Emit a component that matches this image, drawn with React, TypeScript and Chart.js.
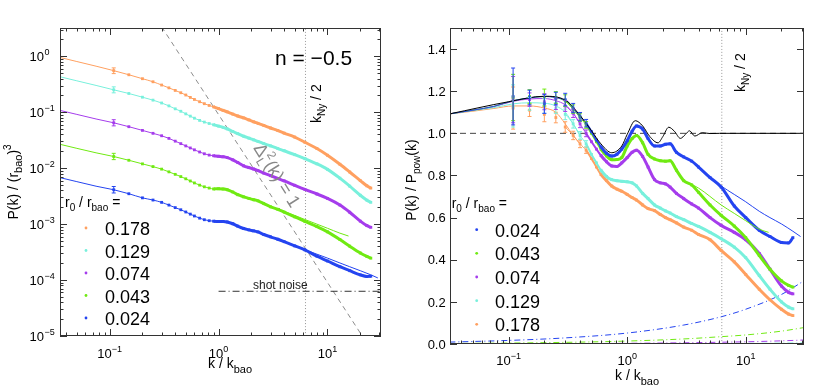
import React, { useEffect, useRef } from "react";
import { Chart, registerables } from "chart.js";

Chart.register(...registerables);

const FONT = '"Liberation Sans", Arial, Helvetica, sans-serif';

const COLOR_ORANGE = "#ffa060";
const COLOR_CYAN = "#78f0dc";
const COLOR_PURPLE = "#a53cec";
const COLOR_GREEN = "#70ea12";
const COLOR_BLUE = "#2444f0";

// series order: orange, cyan, purple, green, blue
const SERIES_NAMES = ["0.178", "0.129", "0.074", "0.043", "0.024"];
const SERIES_COLORS = [COLOR_ORANGE, COLOR_CYAN, COLOR_PURPLE, COLOR_GREEN, COLOR_BLUE];

// ---------- shared k grid of the measured points (k / k_bao) ----------
const K_DATA = [0.109, 0.15, 0.2, 0.25, 0.3, 0.35, 0.4, 0.45, 0.5, 0.55, 0.6, 0.67, 0.74, 0.82, 0.9, 1.0, 1.1, 1.2, 1.35, 1.5, 1.7, 1.9, 2.1, 2.3, 2.6, 3.0, 3.5, 4, 5, 6.2, 8, 10, 13, 16, 20, 23, 25];

// ---------- LEFT PANEL : P(k) / (r_bao)^3 ----------
const K_HEAD_LEFT = [0.0316, 0.05, 0.075, 0.109];
const HEAD_LEFT_ORANGE = [1.0, 0.805, 0.665, 0.553];
const HEAD_LEFT_CYAN = [0.451, 0.364, 0.301, 0.2513];
const HEAD_LEFT_PURPLE = [0.113, 0.0913, 0.0757, 0.06465];
const HEAD_LEFT_GREEN = [0.028, 0.0226, 0.0188, 0.01615];
const HEAD_LEFT_BLUE = [0.0071, 0.00574, 0.00476, 0.004113];

const P_ORANGE = [0.553, 0.467, 0.397, 0.35, 0.306, 0.2725, 0.245, 0.223, 0.203, 0.184, 0.169, 0.154, 0.142, 0.132, 0.1245, 0.116, 0.108, 0.1015, 0.0925, 0.0855, 0.079, 0.0727, 0.0674, 0.0633, 0.058, 0.0522, 0.047, 0.0423, 0.036, 0.029, 0.0224, 0.017, 0.01174, 0.00854, 0.006, 0.00483, 0.0044];
const P_CYAN = [0.2513, 0.2161, 0.1855, 0.1644, 0.1461, 0.1297, 0.1149, 0.104, 0.0934, 0.0851, 0.0782, 0.0713, 0.0666, 0.0628, 0.0597, 0.0565, 0.0536, 0.0503, 0.0452, 0.0414, 0.0372, 0.0344, 0.032, 0.0301, 0.0275, 0.025, 0.0224, 0.0205, 0.0174, 0.01474, 0.01193, 0.00952, 0.00662, 0.00477, 0.00328, 0.00268, 0.00245];
const P_PURPLE = [0.06465, 0.0551, 0.04731, 0.04195, 0.03795, 0.03406, 0.0304, 0.02743, 0.02498, 0.02295, 0.02126, 0.01945, 0.01807, 0.01713, 0.01668, 0.01629, 0.01597, 0.01545, 0.01409, 0.01261, 0.011, 0.01021, 0.00965, 0.00904, 0.00816, 0.00733, 0.00654, 0.00593, 0.00494, 0.00416, 0.00345, 0.00288, 0.00219, 0.00163, 0.00113, 0.00094, 0.000876];
const P_GREEN = [0.01615, 0.01383, 0.01193, 0.01067, 0.00961, 0.00859, 0.00775, 0.00707, 0.00645, 0.0059, 0.00544, 0.00497, 0.00464, 0.00441, 0.00425, 0.00429, 0.00424, 0.00412, 0.00375, 0.00335, 0.00307, 0.00288, 0.00273, 0.00261, 0.00233, 0.00204, 0.00184, 0.00164, 0.00135, 0.00112, 0.000902, 0.000728, 0.000531, 0.000404, 0.000305, 0.000264, 0.000246];
const P_BLUE = [0.004113, 0.003491, 0.002945, 0.002692, 0.002447, 0.002188, 0.001971, 0.001805, 0.001647, 0.001508, 0.001396, 0.001278, 0.001198, 0.00115, 0.001127, 0.001115, 0.001113, 0.001092, 0.001014, 0.00092, 0.000833, 0.000788, 0.000756, 0.000724, 0.000652, 0.000592, 0.000536, 0.000485, 0.000408, 0.000346, 0.000267, 0.000219, 0.000173, 0.000147, 0.000124, 0.000116, 0.000117];

const K_TAIL_GREEN = [3, 4, 6.2, 8, 10, 13, 15.6];
const LEFT_TAIL_GREEN = [0.00204, 0.00169, 0.00121, 0.000998, 0.000843, 0.000689, 0.000612];
const K_TAIL_BLUE = [5, 6.2, 8, 10, 13, 16, 20, 25, 29];
const LEFT_TAIL_BLUE = [0.000408, 0.000348, 0.00029, 0.000247, 0.000202, 0.000173, 0.000147, 0.000124, 0.000109];

// error bars at the first measured point (k = 0.109)
const LEFT_ERR_K = 0.109;
const LEFT_ERR_LO = [0.49, 0.222, 0.057, 0.0142, 0.0036];
const LEFT_ERR_HI = [0.62, 0.284, 0.0735, 0.0184, 0.0047];

const DIAG_K = [0.3, 25];
const DIAG_P = [3.36, 5.8e-6];
const SHOT_NOISE_K = [1, 31];
const SHOT_NOISE_P = [6.3e-5, 6.3e-5];
const K_NY_HALF = 6.28;

const LEFT_X_TICKS = [0.1, 1, 10];
const LEFT_X_EXP = ["\u22121", "0", "1"];
const LEFT_Y_TICKS = [1, 0.1, 0.01, 0.001, 0.0001, 0.00001];
const LEFT_Y_EXP = ["0", "\u22121", "\u22122", "\u22123", "\u22124", "\u22125"];

// ---------- RIGHT PANEL : P(k) / P_pow(k) ----------
const K_HEAD_RIGHT = [0.0316, 0.05, 0.075, 0.109, 0.15, 0.2, 0.25, 0.3, 0.35, 0.4];
const HEAD_RIGHT_ORANGE = [1.092, 1.105, 1.118, 1.13, 1.13, 1.12, 1.1, 1.045, 0.99, 0.95];
const HEAD_RIGHT_CYAN = [1.092, 1.108, 1.122, 1.14, 1.145, 1.143, 1.13, 1.1, 1.045, 0.99];
const HEAD_RIGHT_PURPLE = [1.092, 1.11, 1.127, 1.152, 1.163, 1.165, 1.155, 1.135, 1.095, 1.045];
const HEAD_RIGHT_GREEN = [1.092, 1.11, 1.128, 1.155, 1.168, 1.175, 1.17, 1.152, 1.115, 1.075];
const HEAD_RIGHT_BLUE = [1.092, 1.11, 1.128, 1.155, 1.168, 1.175, 1.17, 1.155, 1.12, 1.079];

const R_ORANGE = [1.12, 1.11, 1.09, 1.075, 1.03, 0.99, 0.95, 0.92, 0.88, 0.84, 0.805, 0.775, 0.75, 0.735, 0.725, 0.71, 0.695, 0.683, 0.66, 0.643, 0.633, 0.615, 0.6, 0.59, 0.575, 0.555, 0.54, 0.52, 0.495, 0.444, 0.39, 0.33, 0.26, 0.21, 0.165, 0.142, 0.135];
const R_CYAN = [1.13, 1.14, 1.13, 1.12, 1.09, 1.045, 0.99, 0.95, 0.9, 0.86, 0.825, 0.795, 0.78, 0.775, 0.772, 0.77, 0.765, 0.75, 0.715, 0.69, 0.66, 0.645, 0.632, 0.622, 0.605, 0.59, 0.572, 0.558, 0.53, 0.5, 0.46, 0.41, 0.325, 0.26, 0.2, 0.175, 0.167];
const R_PURPLE = [1.16, 1.16, 1.15, 1.14, 1.13, 1.095, 1.045, 1.0, 0.96, 0.925, 0.895, 0.865, 0.845, 0.843, 0.86, 0.885, 0.91, 0.92, 0.89, 0.84, 0.78, 0.765, 0.76, 0.745, 0.715, 0.69, 0.665, 0.645, 0.6, 0.563, 0.53, 0.495, 0.43, 0.355, 0.275, 0.245, 0.238];
const R_GREEN = [1.17, 1.175, 1.17, 1.17, 1.155, 1.115, 1.075, 1.04, 1.0, 0.96, 0.925, 0.893, 0.875, 0.876, 0.885, 0.94, 0.975, 0.99, 0.955, 0.9, 0.878, 0.87, 0.868, 0.87, 0.825, 0.775, 0.755, 0.72, 0.66, 0.611, 0.56, 0.505, 0.42, 0.355, 0.3, 0.278, 0.27];
const R_BLUE = [1.175, 1.17, 1.14, 1.165, 1.16, 1.12, 1.079, 1.048, 1.008, 0.968, 0.936, 0.905, 0.892, 0.901, 0.925, 0.965, 1.01, 1.035, 1.02, 0.975, 0.94, 0.94, 0.948, 0.95, 0.91, 0.888, 0.868, 0.84, 0.79, 0.745, 0.655, 0.6, 0.54, 0.51, 0.482, 0.48, 0.505];

const RIGHT_TAIL_GREEN = [0.775, 0.74, 0.66, 0.62, 0.585, 0.545, 0.53];
const RIGHT_TAIL_BLUE = [0.79, 0.75, 0.71, 0.675, 0.63, 0.6, 0.57, 0.535, 0.51];

const K_BLACK = [0.0316, 0.1, 0.2, 0.3, 0.4, 0.5, 0.6, 0.74, 0.9, 1.0, 1.17, 1.35, 1.55, 1.82, 2.0, 2.24, 2.5, 2.81, 3.1, 3.35, 3.72, 4.3, 5, 6, 10, 31];
const R_BLACK = [1.092, 1.15, 1.176, 1.158, 1.085, 1.012, 0.95, 0.908, 0.94, 0.995, 1.06, 1.035, 0.985, 0.955, 0.985, 1.029, 1.01, 0.976, 0.995, 1.012, 0.987, 1.003, 0.999, 1.0, 1.0, 1.0];

const K_SN = [0.0316, 0.1, 0.3, 1, 3, 6.28, 10, 20, 31];
const SN_ORANGE = [0.00006, 0.0001, 0.0002, 0.0004, 0.0007, 0.001, 0.0013, 0.0018, 0.0023];
const SN_CYAN = [0.00016, 0.0003, 0.0005, 0.0009, 0.0016, 0.0023, 0.003, 0.0042, 0.0053];
const SN_PURPLE = [0.0006, 0.001, 0.0018, 0.0033, 0.0058, 0.0085, 0.0105, 0.015, 0.019];
const SN_GREEN = [0.0025, 0.0045, 0.0078, 0.014, 0.024, 0.035, 0.043, 0.061, 0.078];
const SN_BLUE = [0.009, 0.017, 0.029, 0.052, 0.09, 0.13, 0.165, 0.235, 0.3];

// error bar half-widths at the first eight measured k
const ERR_HALF_ORANGE = [0.1, 0.03, 0.035, 0.025, 0.025, 0.02, 0.018, 0.015];
const ERR_HALF_CYAN = [0.1, 0.03, 0.035, 0.025, 0.025, 0.02, 0.018, 0.015];
const ERR_HALF_PURPLE = [0.11, 0.032, 0.038, 0.027, 0.026, 0.02, 0.018, 0.016];
const ERR_HALF_GREEN = [0.11, 0.032, 0.04, 0.028, 0.028, 0.02, 0.018, 0.016];
const ERR_HALF_BLUE = [0.135, 0.035, 0.045, 0.03, 0.03, 0.022, 0.02, 0.018];

const RIGHT_X_TICKS = [0.1, 1, 10];
const RIGHT_X_EXP = ["\u22121", "0", "1"];
const RIGHT_Y_TICKS = [0, 0.2, 0.4, 0.6, 0.8, 1.0, 1.2, 1.4];
const RIGHT_Y_LABELS = ["0.0", "0.2", "0.4", "0.6", "0.8", "1.0", "1.2", "1.4"];

// ---------- helpers ----------
type Part = { t: string; s: number; dy?: number };

const pts = (xs: number[], ys: number[]) => xs.map((x, i) => ({ x, y: ys[i] }));

function partsWidth(ctx: CanvasRenderingContext2D, parts: Part[]) {
  let w = 0;
  for (const p of parts) {
    ctx.font = `${p.s}px ${FONT}`;
    w += ctx.measureText(p.t).width;
  }
  return w;
}

function drawParts(ctx: CanvasRenderingContext2D, x: number, y: number, parts: Part[], align = "left", color = "#000") {
  const w = partsWidth(ctx, parts);
  let cx = align === "left" ? x : align === "center" ? x - w / 2 : x - w;
  ctx.save();
  ctx.fillStyle = color;
  ctx.textAlign = "left";
  ctx.textBaseline = "alphabetic";
  for (const p of parts) {
    ctx.font = `${p.s}px ${FONT}`;
    ctx.fillText(p.t, cx, y + (p.dy || 0));
    cx += ctx.measureText(p.t).width;
  }
  ctx.restore();
}

function logMinor(min: number, max: number): number[] {
  const out: number[] = [];
  for (let e = Math.floor(Math.log10(min)); e <= Math.ceil(Math.log10(max)); e++) {
    for (let d = 2; d <= 9; d++) {
      const v = d * Math.pow(10, e);
      if (v > min && v < max) out.push(v);
    }
  }
  return out;
}

function drawFrame(chart: any, xMaj: number[], xMin: number[], yMaj: number[], yMin: number[]) {
  const { ctx, chartArea: a } = chart;
  const X = chart.scales.x;
  const Y = chart.scales.y;
  ctx.save();
  ctx.strokeStyle = "#333";
  ctx.lineWidth = 1;
  ctx.setLineDash([]);
  ctx.beginPath();
  const tx = (v: number, len: number) => {
    const p = Math.round(X.getPixelForValue(v)) + 0.5;
    ctx.moveTo(p, a.bottom); ctx.lineTo(p, a.bottom - len);
    ctx.moveTo(p, a.top); ctx.lineTo(p, a.top + len);
  };
  const ty = (v: number, len: number) => {
    const p = Math.round(Y.getPixelForValue(v)) + 0.5;
    ctx.moveTo(a.left, p); ctx.lineTo(a.left + len, p);
    ctx.moveTo(a.right, p); ctx.lineTo(a.right - len, p);
  };
  xMaj.forEach((v) => tx(v, 7));
  xMin.forEach((v) => tx(v, 3.5));
  yMaj.forEach((v) => ty(v, 7));
  yMin.forEach((v) => ty(v, 3.5));
  ctx.stroke();
  ctx.strokeRect(a.left + 0.5, a.top + 0.5, a.right - a.left - 1, a.bottom - a.top - 1);
  ctx.restore();
}

function drawRotated(ctx: CanvasRenderingContext2D, x: number, y: number, angle: number, parts: Part[], align: string, color = "#000") {
  ctx.save();
  ctx.translate(x, y);
  ctx.rotate(angle);
  drawParts(ctx, 0, 0, parts, align, color);
  ctx.restore();
}

function legendBlock(ctx: CanvasRenderingContext2D, titleX: number, titleY: number, markX: number, textX: number, baselines: number[], idx: number[]) {
  drawParts(ctx, titleX, titleY, [
    { t: "r", s: 14 }, { t: "0", s: 10, dy: 4 }, { t: " / r", s: 14 }, { t: "bao", s: 10, dy: 4 }, { t: " =", s: 14 },
  ]);
  idx.forEach((si, i) => {
    ctx.save();
    ctx.fillStyle = SERIES_COLORS[si];
    ctx.beginPath();
    ctx.arc(markX, baselines[i] - 7, 1.4, 0, Math.PI * 2);
    ctx.fill();
    ctx.restore();
    drawParts(ctx, textX, baselines[i], [{ t: SERIES_NAMES[si], s: 18 }]);
  });
}

const thin = (data: any[], color: string, extra: any = {}) => ({
  data, borderColor: color, borderWidth: 1, pointRadius: 0, fill: false, clip: 0,
  cubicInterpolationMode: "monotone", ...extra,
});

function dataSet(data: any[], color: string, seg: (x: number) => number | null) {
  return {
    data, borderColor: color, backgroundColor: color, borderWidth: 1,
    pointRadius: 2, pointStyle: "rect", pointBorderWidth: 0, pointBackgroundColor: color,
    fill: false, clip: 0, cubicInterpolationMode: "monotone",
    segment: {
      borderWidth: (c: any) => { const w = seg(c.p0.parsed.x); return w === null ? 0 : w; },
      borderColor: (c: any) => (seg(c.p0.parsed.x) === null ? "rgba(0,0,0,0)" : color),
    },
  };
}

function withOrder(list: any[]) {
  return list.map((d, i) => ({ ...d, order: list.length - i }));
}

const baseOptions = (padding: any, x: any, y: any) => ({
  responsive: false,
  animation: false,
  devicePixelRatio: 1,
  events: [],
  layout: { padding },
  scales: { x: { ...x, display: false }, y: { ...y, display: false } },
  plugins: { legend: { display: false }, tooltip: { enabled: false } },
});

// ---------- left chart ----------
function leftConfig(): any {
  const leftSeg = (x: number) => (x >= 0.85 ? 3 : 1);
  const heads = [HEAD_LEFT_ORANGE, HEAD_LEFT_CYAN, HEAD_LEFT_PURPLE, HEAD_LEFT_GREEN, HEAD_LEFT_BLUE];
  const datas = [P_ORANGE, P_CYAN, P_PURPLE, P_GREEN, P_BLUE];
  const datasets = withOrder([
    thin(pts([K_NY_HALF, K_NY_HALF], [1e-5, 3.2]), "#999", { borderDash: [1, 2] }),
    thin(pts(DIAG_K, DIAG_P), "#8c8c8c", { borderDash: [5, 4] }),
    thin(pts(SHOT_NOISE_K, SHOT_NOISE_P), "#333", { borderDash: [7, 3, 1, 3] }),
    ...heads.map((h, i) => thin(pts(K_HEAD_LEFT, h), SERIES_COLORS[i])),
    ...datas.map((d, i) => dataSet(pts(K_DATA, d), SERIES_COLORS[i], leftSeg)),
    thin(pts(K_TAIL_GREEN, LEFT_TAIL_GREEN), COLOR_GREEN),
    thin(pts(K_TAIL_BLUE, LEFT_TAIL_BLUE), COLOR_BLUE),
  ]);
  const plugin = {
    id: "leftDecor",
    afterDatasetsDraw(chart: any) {
      const { ctx } = chart;
      const X = chart.scales.x, Y = chart.scales.y;
      const px = X.getPixelForValue(LEFT_ERR_K);
      ctx.save();
      ctx.lineWidth = 1;
      LEFT_ERR_LO.forEach((lo, i) => {
        const y1 = Y.getPixelForValue(lo), y2 = Y.getPixelForValue(LEFT_ERR_HI[i]);
        ctx.strokeStyle = SERIES_COLORS[i];
        ctx.beginPath();
        ctx.moveTo(px, y1); ctx.lineTo(px, y2);
        ctx.moveTo(px - 2, y1); ctx.lineTo(px + 2, y1);
        ctx.moveTo(px - 2, y2); ctx.lineTo(px + 2, y2);
        ctx.stroke();
      });
      ctx.restore();
    },
    afterDraw(chart: any) {
      const { ctx } = chart;
      const X = chart.scales.x, Y = chart.scales.y;
      drawFrame(chart, LEFT_X_TICKS, logMinor(0.035, 31), LEFT_Y_TICKS, logMinor(1e-5, 3.2));
      LEFT_X_TICKS.forEach((v, i) => {
        drawParts(ctx, X.getPixelForValue(v), 358, [{ t: "10", s: 13 }, { t: LEFT_X_EXP[i], s: 9, dy: -6 }], "center");
      });
      LEFT_Y_TICKS.forEach((v, i) => {
        const py = Y.getPixelForValue(v);
        drawParts(ctx, 44, py + 5, [{ t: "10", s: 13 }], "right");
        drawParts(ctx, 44.5, py - 1.5, [{ t: LEFT_Y_EXP[i], s: 9 }], "left");
      });
      // axis titles
      drawParts(ctx, 208, 368, [{ t: "k / k", s: 14 }, { t: "bao", s: 11, dy: 5 }]);
      drawRotated(ctx, 18, 182, -Math.PI / 2, [
        { t: "P(k) / (r", s: 14 }, { t: "bao", s: 11, dy: 4 }, { t: ")", s: 14 }, { t: "3", s: 10, dy: -7 },
      ], "center");
      // annotations
      drawParts(ctx, 275, 65, [{ t: "n = \u22120.5", s: 21 }]);
      drawRotated(ctx, 321, 123, -Math.PI / 2, [{ t: "k", s: 14 }, { t: "Ny", s: 10, dy: 4 }, { t: " / 2", s: 14 }], "left");
      drawParts(ctx, 253, 289, [{ t: "shot noise", s: 12 }], "left", "#222");
      // Delta_L^2(k) = 1 along the dashed line
      ctx.save();
      ctx.translate(253, 148);
      ctx.rotate((58 * Math.PI) / 180);
      ctx.fillStyle = "#888";
      ctx.textBaseline = "alphabetic";
      ctx.font = `18px ${FONT}`;
      ctx.fillText("\u0394", 0, 0);
      let cx = ctx.measureText("\u0394").width;
      ctx.font = `12px ${FONT}`;
      ctx.fillText("2", cx + 0.5, -8);
      ctx.fillText("L", cx + 0.5, 5);
      cx += ctx.measureText("L").width + 1.5;
      ctx.font = `18px ${FONT}`;
      ctx.fillText("(k) = 1", cx, 0);
      ctx.restore();
      legendBlock(ctx, 65, 207, 86, 105, [235, 257.5, 280, 302.5, 325], [0, 1, 2, 3, 4]);
    },
  };
  return {
    type: "line",
    data: { datasets },
    options: baseOptions(
      { left: 60, top: 28, right: 19, bottom: 51 },
      { type: "logarithmic", min: 0.035, max: 31 },
      { type: "logarithmic", min: 1e-5, max: 3.2 }
    ),
    plugins: [plugin],
  };
}

// ---------- right chart ----------
function rightConfig(): any {
  const rightSeg = (x: number) => (x < 0.3 ? null : x < 0.45 ? 1 : x < 0.6 ? 2 : 3);
  const heads = [HEAD_RIGHT_ORANGE, HEAD_RIGHT_CYAN, HEAD_RIGHT_PURPLE, HEAD_RIGHT_GREEN, HEAD_RIGHT_BLUE];
  const datas = [R_ORANGE, R_CYAN, R_PURPLE, R_GREEN, R_BLUE];
  const sns = [SN_ORANGE, SN_CYAN, SN_PURPLE, SN_GREEN, SN_BLUE];
  const errs = [ERR_HALF_ORANGE, ERR_HALF_CYAN, ERR_HALF_PURPLE, ERR_HALF_GREEN, ERR_HALF_BLUE];
  const datasets = withOrder([
    thin(pts([K_NY_HALF, K_NY_HALF], [0, 1.5]), "#999", { borderDash: [1, 2] }),
    thin(pts([0.032, 31], [1, 1]), "#444", { borderDash: [6, 4] }),
    ...sns.map((s, i) => thin(pts(K_SN, s), SERIES_COLORS[i], { borderDash: [6, 3, 1, 3] })),
    ...heads.map((h, i) => thin(pts(K_HEAD_RIGHT, h), SERIES_COLORS[i])),
    ...datas.map((d, i) => dataSet(pts(K_DATA, d), SERIES_COLORS[i], rightSeg)),
    thin(pts(K_TAIL_GREEN, RIGHT_TAIL_GREEN), COLOR_GREEN),
    thin(pts(K_TAIL_BLUE, RIGHT_TAIL_BLUE), COLOR_BLUE),
    thin(pts(K_BLACK, R_BLACK), "#000"),
  ]);
  const plugin = {
    id: "rightDecor",
    afterDatasetsDraw(chart: any) {
      const { ctx } = chart;
      const X = chart.scales.x, Y = chart.scales.y;
      ctx.save();
      ctx.lineWidth = 1;
      errs.forEach((half, si) => {
        ctx.strokeStyle = SERIES_COLORS[si];
        ctx.beginPath();
        half.forEach((h, j) => {
          const px = X.getPixelForValue(K_DATA[j]);
          const c = datas[si][j];
          const y1 = Y.getPixelForValue(c - h), y2 = Y.getPixelForValue(c + h);
          ctx.moveTo(px, y1); ctx.lineTo(px, y2);
          ctx.moveTo(px - 2, y1); ctx.lineTo(px + 2, y1);
          ctx.moveTo(px - 2, y2); ctx.lineTo(px + 2, y2);
        });
        ctx.stroke();
      });
      ctx.restore();
    },
    afterDraw(chart: any) {
      const { ctx } = chart;
      const X = chart.scales.x, Y = chart.scales.y;
      drawFrame(chart, RIGHT_X_TICKS, logMinor(0.032, 31), RIGHT_Y_TICKS, []);
      RIGHT_X_TICKS.forEach((v, i) => {
        drawParts(ctx, X.getPixelForValue(v), 365, [{ t: "10", s: 13 }, { t: RIGHT_X_EXP[i], s: 9, dy: -6 }], "center");
      });
      RIGHT_Y_TICKS.forEach((v, i) => {
        drawParts(ctx, 45.7, Y.getPixelForValue(v) + 4.7, [{ t: RIGHT_Y_LABELS[i], s: 13 }], "right");
      });
      drawParts(ctx, 215, 380, [{ t: "k / k", s: 14 }, { t: "bao", s: 11, dy: 5 }]);
      drawRotated(ctx, 15.5, 180, -Math.PI / 2, [
        { t: "P(k) / P", s: 14 }, { t: "pow", s: 10, dy: 4 }, { t: "(k)", s: 14 },
      ], "center");
      drawRotated(ctx, 345, 92, -Math.PI / 2, [{ t: "k", s: 14 }, { t: "Ny", s: 10, dy: 4 }, { t: " / 2", s: 14 }], "left");
      legendBlock(ctx, 51.7, 208, 76.7, 95, [236.7, 260.3, 284, 307.7, 331.3], [4, 3, 2, 1, 0]);
    },
  };
  return {
    type: "line",
    data: { datasets },
    options: baseOptions(
      { left: 50, top: 28, right: 26, bottom: 43 },
      { type: "logarithmic", min: 0.032, max: 31 },
      { type: "linear", min: 0, max: 1.5 }
    ),
    plugins: [plugin],
  };
}

export default function App() {
  const leftRef = useRef<HTMLCanvasElement>(null);
  const rightRef = useRef<HTMLCanvasElement>(null);
  useEffect(() => {
    const c1 = new Chart(leftRef.current as HTMLCanvasElement, leftConfig());
    const c2 = new Chart(rightRef.current as HTMLCanvasElement, rightConfig());
    return () => {
      c1.destroy();
      c2.destroy();
    };
  }, []);
  return (
    <div style={{ position: "fixed", left: 0, top: 0, width: 830, height: 387, background: "#fff", overflow: "hidden" }}>
      <canvas ref={leftRef} width={400} height={387} style={{ position: "absolute", left: 0, top: 0, width: 400, height: 387 }} />
      <canvas ref={rightRef} width={430} height={387} style={{ position: "absolute", left: 400, top: 0, width: 430, height: 387 }} />
    </div>
  );
}
